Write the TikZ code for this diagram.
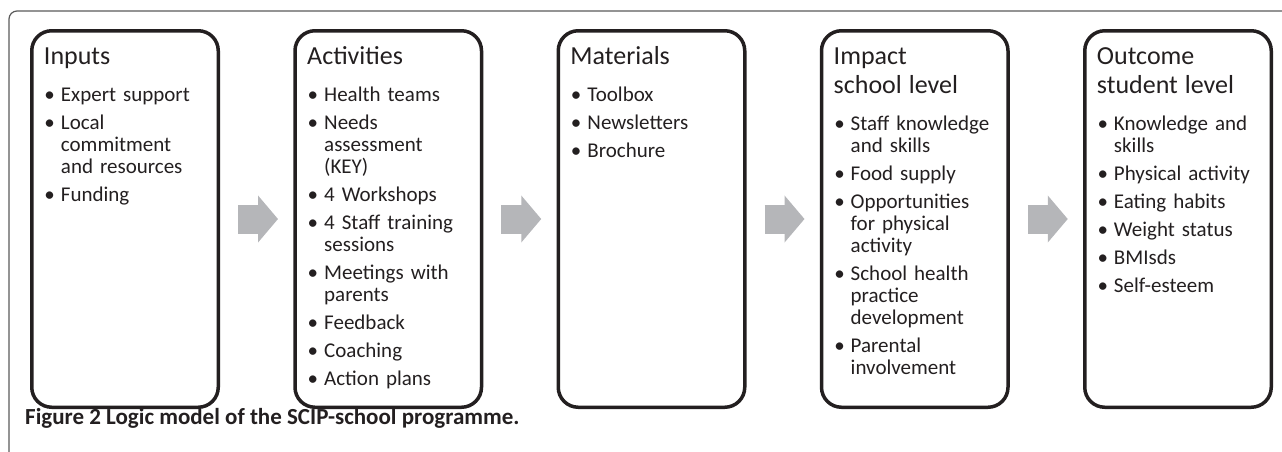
\documentclass[tikz,border=0pt]{standalone}
\usepackage{fontspec}
\setmainfont{Carlito}
\usetikzlibrary{positioning,arrows.meta}

\definecolor{arrowgray}{RGB}{181,182,185}
\definecolor{boxline}{RGB}{35,31,32}
\definecolor{framegray}{RGB}{90,90,90}

\newcommand{\stagetitle}[1]{{\fontsize{26}{29}\selectfont\rule{0pt}{20pt}#1\par}}
\newenvironment{bulletlist}{%
  \begin{list}{\textbullet}{%
    \setlength\leftmargin{17pt}\setlength\labelsep{6pt}\setlength\labelwidth{11pt}%
    \setlength\itemsep{6pt}\setlength\parsep{0pt}%
    \setlength\topsep{15pt}\setlength\partopsep{0pt}}}%
  {\end{list}}

\begin{document}
\begin{tikzpicture}[x=1pt,y=-1pt]
  \tikzstyle{stage} = [draw=boxline, line width=3.5pt, rounded corners=20pt, minimum width=186.5pt, minimum height=376.5pt, inner sep=0pt, outer sep=0pt]
  \tikzstyle{stagetext} = [anchor=north west, inner sep=0pt, text width=170pt, align=left, text=boxline, font=\fontsize{21}{22}\selectfont]
  \tikzstyle{flow} = [draw=arrowgray, line width=29pt, -{Triangle[width=46pt,length=20pt]}, shorten <=19.75pt, shorten >=17pt]
  \useasboundingbox (0,0) rectangle (1282,451);
  % outer frame
  \draw[framegray, line width=1.2pt, rounded corners=8pt] (9,452) -- (9,11) -- (1283,11);
  % stages
  \node[stage] (inputs) at (125,219) {};
  \node[stage, right=76.75pt of inputs] (activities) {};
  \node[stage, right=76.75pt of activities] (materials) {};
  \node[stage, right=76.75pt of materials] (impact) {};
  \node[stage, right=76.75pt of impact] (outcome) {};
  % texts
  \node[stagetext] (inputs-text) at ([xshift=12pt, yshift=-14pt]inputs.north west) {%
    \stagetitle{Inputs}
    \begin{bulletlist}
      \item Expert support
      \item Local\newline commitment\newline and resources
      \item Funding
    \end{bulletlist}};
  \node[stagetext] (activities-text) at ([xshift=12pt, yshift=-14pt]activities.north west) {%
    \stagetitle{Activities}
    \begin{bulletlist}
      \item Health teams
      \item Needs\newline assessment\newline (KEY)
      \item 4 Workshops
      \item 4 Staff training\newline sessions
      \item Meetings with\newline parents
      \item Feedback
      \item Coaching
      \item Action plans
    \end{bulletlist}};
  \node[stagetext] (materials-text) at ([xshift=12pt, yshift=-14pt]materials.north west) {%
    \stagetitle{Materials}
    \begin{bulletlist}
      \item Toolbox
      \item Newsletters
      \item Brochure
    \end{bulletlist}};
  \node[stagetext] (impact-text) at ([xshift=12pt, yshift=-14pt]impact.north west) {%
    \stagetitle{Impact\\school level}
    \begin{bulletlist}
      \item Staff knowledge\newline and skills
      \item Food supply
      \item Opportunities\newline for physical\newline activity
      \item School health\newline practice\newline development
      \item Parental\newline involvement
    \end{bulletlist}};
  \node[stagetext] (outcome-text) at ([xshift=12pt, yshift=-14pt]outcome.north west) {%
    \stagetitle{Outcome\\student level}
    \begin{bulletlist}
      \item Knowledge and\newline skills
      \item Physical activity
      \item Eating habits
      \item Weight status
      \item BMIsds
      \item Self-esteem
    \end{bulletlist}};
  % flow arrows
  \foreach \a/\b in {inputs/activities, activities/materials, materials/impact, impact/outcome}
    \draw[flow] (\a.east) -- (\b.west);
  % caption
  \node[anchor=base west, inner sep=0pt, text=boxline, font=\fontsize{23}{25}\selectfont\bfseries] (caption) at (25,424) {Figure 2 Logic model of the SCIP-school programme.};
\end{tikzpicture}
\end{document}
